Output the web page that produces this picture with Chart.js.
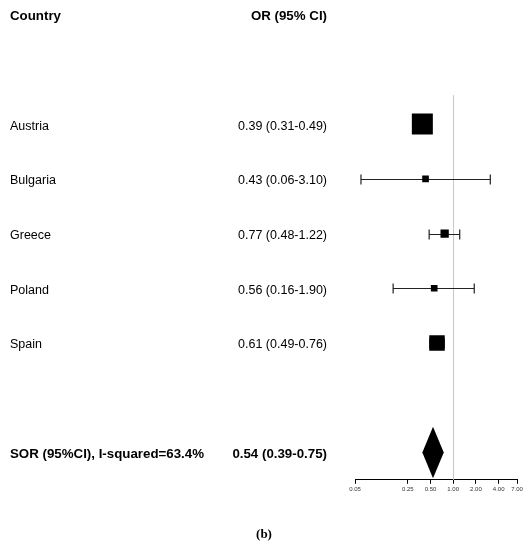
<!DOCTYPE html>
<html lang="en">
<head>
    <meta charset="UTF-8">
    <title>Forest plot (b)</title>
    <script src="https://cdn.jsdelivr.net/npm/chart.js"></script>
    <style>
        html, body { margin: 0; padding: 0; background: #fff; }
        #wrap { width: 532px; height: 550px; }
    </style>
</head>
<body>
    <div id="wrap"><canvas id="forest"></canvas></div>

    <script>
        // study data
        const countries = ['Austria', 'Bulgaria', 'Greece', 'Poland', 'Spain'];
        const oddsRatio = [0.39, 0.43, 0.77, 0.56, 0.61];
        const ciLower = [0.31, 0.06, 0.48, 0.16, 0.49];
        const ciUpper = [0.49, 3.10, 1.22, 1.90, 0.76];
        const weights = [52.5, 5.3, 8.2, 5.3, 28.6]; // % weight

        // pooled estimate
        const pooledLabel = 'SOR (95%CI), I-squared=63.4%';
        const pooled = [0.54, 0.39, 0.75]; // OR, lower, upper

        const axisTicks = [0.05, 0.25, 0.50, 1.00, 2.00, 4.00, 7.00];

        const pooledRow = countries.length + 1;
        const fmt = (v) => v.toFixed(2);
        const orText = (o, l, u) => `${fmt(o)} (${fmt(l)}-${fmt(u)})`;

        const forestPlugin = {
            id: 'forest',
            beforeDatasetsDraw(chart) {
                const { ctx, scales: { x, y } } = chart;
                ctx.save();
                // line of no effect
                ctx.strokeStyle = '#c8c8c8';
                ctx.lineWidth = 1;
                ctx.beginPath();
                ctx.moveTo(Math.round(x.getPixelForValue(1)) + 0.5, y.getPixelForValue(-0.53));
                ctx.lineTo(Math.round(x.getPixelForValue(1)) + 0.5, y.getPixelForValue(pooledRow + 0.5));
                ctx.stroke();

                // confidence intervals with end caps
                ctx.strokeStyle = '#222';
                ctx.lineWidth = 1.2;
                countries.forEach((c, i) => {
                    const yy = Math.round(y.getPixelForValue(i)) + 0.5;
                    const x1 = x.getPixelForValue(ciLower[i]);
                    const x2 = x.getPixelForValue(ciUpper[i]);
                    ctx.beginPath();
                    ctx.moveTo(x1, yy);
                    ctx.lineTo(x2, yy);
                    ctx.moveTo(x1, yy - 5);
                    ctx.lineTo(x1, yy + 5);
                    ctx.moveTo(x2, yy - 5);
                    ctx.lineTo(x2, yy + 5);
                    ctx.stroke();
                });

                // pooled diamond
                const py = y.getPixelForValue(pooledRow);
                const h = y.getPixelForValue(pooledRow + 0.47) - py;
                ctx.fillStyle = '#000';
                ctx.beginPath();
                ctx.moveTo(x.getPixelForValue(pooled[1]), py);
                ctx.lineTo(x.getPixelForValue(pooled[0]), py - h);
                ctx.lineTo(x.getPixelForValue(pooled[2]), py);
                ctx.lineTo(x.getPixelForValue(pooled[0]), py + h);
                ctx.closePath();
                ctx.fill();
                ctx.restore();
            },
            afterDraw(chart) {
                const { ctx, scales: { y } } = chart;
                const leftX = 10, rightX = 327, dy = 2;
                ctx.save();
                ctx.fillStyle = '#000';
                ctx.textBaseline = 'middle';

                // header
                ctx.font = 'bold 13.3px "Liberation Sans", Arial, sans-serif';
                const hy = y.getPixelForValue(-2) + dy;
                ctx.textAlign = 'left';
                ctx.fillText('Country', leftX, hy);
                ctx.textAlign = 'right';
                ctx.fillText('OR (95% CI)', rightX, hy);

                // study rows
                ctx.font = '12.5px "Liberation Sans", Arial, sans-serif';
                countries.forEach((c, i) => {
                    const yy = y.getPixelForValue(i) + dy;
                    ctx.textAlign = 'left';
                    ctx.fillText(c, leftX, yy);
                    ctx.textAlign = 'right';
                    ctx.fillText(orText(oddsRatio[i], ciLower[i], ciUpper[i]), rightX, yy);
                });

                // pooled row
                ctx.font = 'bold 13.3px "Liberation Sans", Arial, sans-serif';
                const py = y.getPixelForValue(pooledRow) + dy;
                ctx.textAlign = 'left';
                ctx.fillText(pooledLabel, leftX, py);
                ctx.textAlign = 'right';
                ctx.fillText(orText(pooled[0], pooled[1], pooled[2]), rightX, py);

                // panel caption
                ctx.font = 'bold 13px "Liberation Serif", "DejaVu Serif", serif';
                ctx.textAlign = 'center';
                ctx.fillText('(b)', 264, 535);
                ctx.restore();
            }
        };

        new Chart(document.getElementById('forest'), {
            type: 'scatter',
            data: {
                datasets: [{
                    label: 'OR',
                    data: countries.map((c, i) => ({ x: oddsRatio[i], y: i })),
                    pointStyle: 'rect',
                    pointRadius: weights.map(w => 2.9 * Math.sqrt(w) / Math.SQRT2),
                    backgroundColor: '#000',
                    borderColor: '#000',
                    borderWidth: 0
                }]
            },
            options: {
                responsive: true,
                maintainAspectRatio: false,
                animation: false,
                devicePixelRatio: 1,
                layout: { padding: { left: 355, right: 15, top: 94, bottom: 55 } },
                plugins: {
                    legend: { display: false },
                    tooltip: { enabled: false }
                },
                scales: {
                    x: {
                        type: 'logarithmic',
                        min: 0.05,
                        max: 7,
                        afterBuildTicks: (scale) => {
                            scale.ticks = axisTicks.map(v => ({ value: v }));
                        },
                        ticks: {
                            autoSkip: false,
                            maxRotation: 0,
                            padding: 2,
                            color: '#333',
                            font: { family: '"Liberation Sans", Arial, sans-serif', size: 6 },
                            callback: (v) => Number(v).toFixed(2)
                        },
                        grid: {
                            drawOnChartArea: false,
                            drawTicks: true,
                            tickLength: 4,
                            color: '#000'
                        },
                        border: { display: true, color: '#000', width: 1 }
                    },
                    y: {
                        display: false,
                        reverse: true,
                        min: -0.55,
                        max: pooledRow + 0.5
                    }
                }
            },
            plugins: [forestPlugin]
        });
    </script>
</body>
</html>
